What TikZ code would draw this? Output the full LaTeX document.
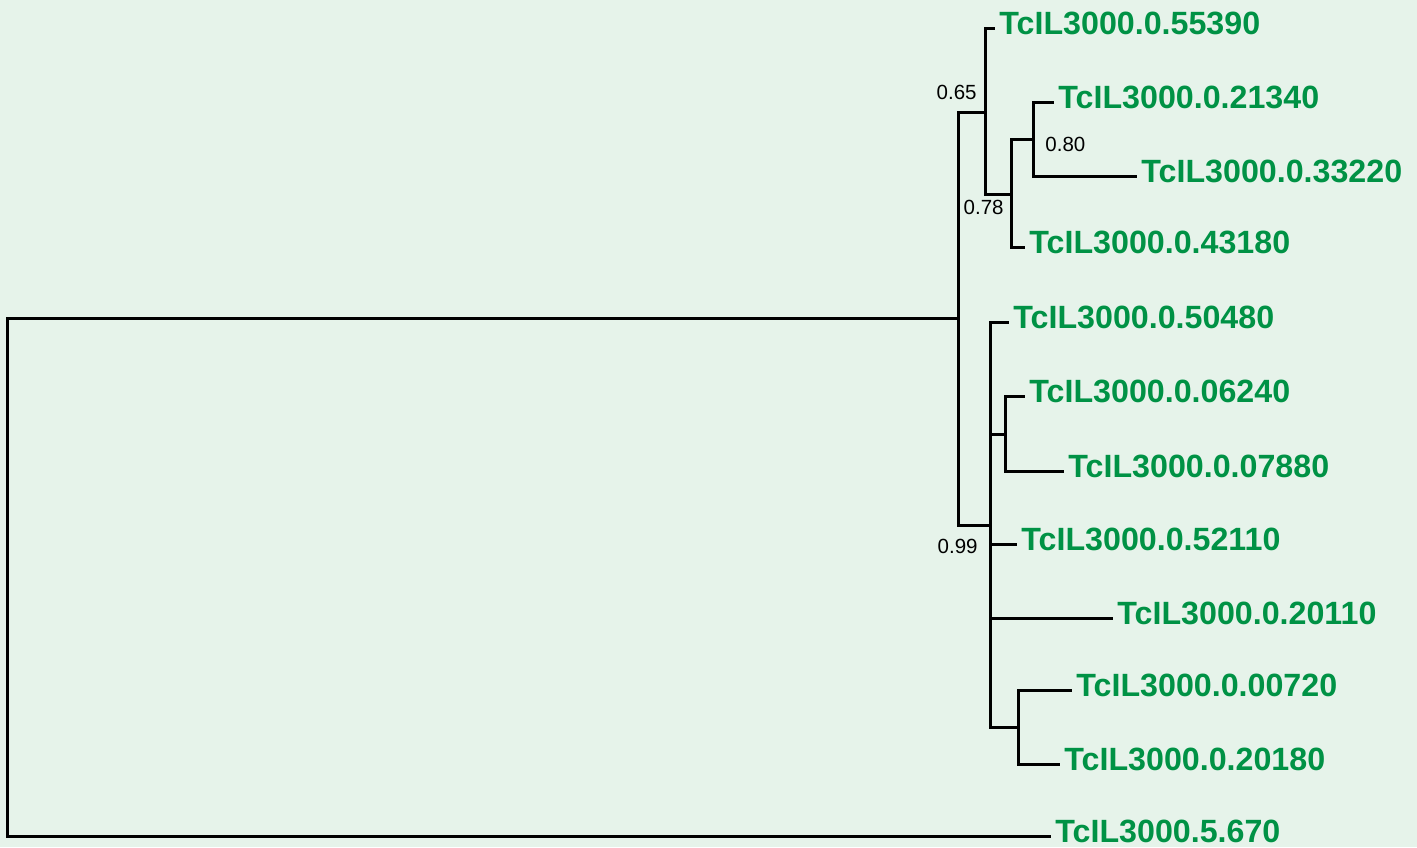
\documentclass[tikz,border=0pt]{standalone}
\usepackage{fontspec}
\setsansfont{Liberation Sans}
\definecolor{bggreen}{RGB}{230,243,234}
\definecolor{tipgreen}{RGB}{0,146,69}
\tikzset{
  leaf/.style={anchor=base west, inner sep=0pt, xshift=2pt, yshift=-3pt, text=tipgreen,
    font=\sffamily\bfseries\fontsize{16.1}{18}\selectfont},
  supp/.style={inner sep=0pt, font=\sffamily\fontsize{10.25}{12}\selectfont},
  branch/.style={line width=1.5pt}
}
\begin{document}
\begin{tikzpicture}[x=0.5pt, y=-0.5pt]
\fill[bggreen] (0,0) rectangle (1417,847);
\useasboundingbox (0,0) rectangle (1417,847);
% inner nodes
\coordinate (root) at (7,577);
\coordinate (nA) at (958,318);
\coordinate (nB) at (985,112);
\coordinate (nC) at (1011,194);
\coordinate (nD) at (1033,139);
\coordinate (nE) at (990,525);
\coordinate (nF) at (1005,434);
\coordinate (nG) at (1018,727);
% tips
\coordinate (t55390) at (995,28);
\coordinate (t21340) at (1054,102);
\coordinate (t33220) at (1137,176);
\coordinate (t43180) at (1025,247);
\coordinate (t50480) at (1009,322);
\coordinate (t06240) at (1025,396);
\coordinate (t07880) at (1064,471);
\coordinate (t52110) at (1017,544);
\coordinate (t20110) at (1113,618);
\coordinate (t00720) at (1072,690);
\coordinate (t20180) at (1060,764);
\coordinate (t5670) at (1051,836);
% branches
\foreach \p/\c in {root/nA, root/t5670, nA/nB, nA/nE, nB/t55390, nB/nC, nC/nD, nC/t43180,
    nD/t21340, nD/t33220, nE/t50480, nE/nF, nE/t52110, nE/t20110, nE/nG,
    nF/t06240, nF/t07880, nG/t00720, nG/t20180}
  \draw[branch] (\p) |- (\c);
% leaf labels
\foreach \t in {55390, 21340, 33220, 43180, 50480, 06240, 07880, 52110, 20110, 00720, 20180}
  \node[leaf] (l\t) at (t\t) {TcIL3000.0.\t};
\node[leaf] (l5670) at (t5670) {TcIL3000.5.670};
% support values
\node[supp, anchor=base east] (s65) at (977,99) {0.65};
\node[supp, anchor=base east] (s78) at (1004,214) {0.78};
\node[supp, anchor=base west] (s80) at (1045,151) {0.80};
\node[supp, anchor=base east] (s99) at (978,553) {0.99};
\end{tikzpicture}
\end{document}
